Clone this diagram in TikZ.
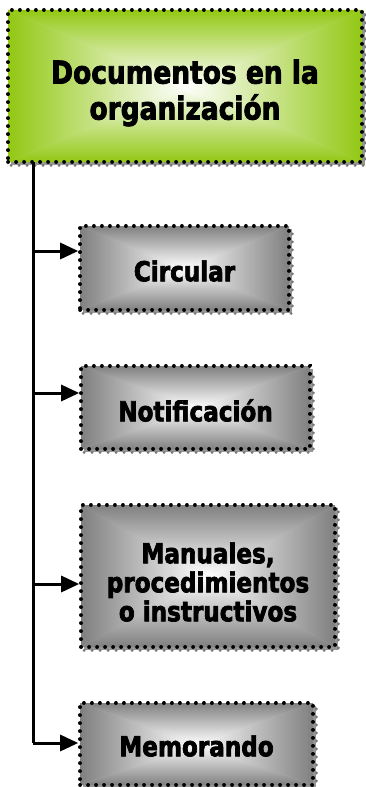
\documentclass[tikz,border=0pt]{standalone}
\usepackage{fontspec}
\setmainfont{DejaVu Sans}[FakeStretch=0.84, BoldFeatures={FakeBold=2.5}]
\usetikzlibrary{arrows.meta}
\definecolor{lime}{RGB}{146,200,20}
\definecolor{midgray}{RGB}{128,128,128}
\definecolor{shadowgray}{RGB}{150,150,150}
\newcommand\gradrect[5]{%
  \fill[#5!55!white] (#1,#2) rectangle (#3,#4);
  \shade[top color=#5, bottom color=white] (#1,#2) -- (#3,#2) -- ({(#1+#3)/2},{(#2+#4)/2}) -- cycle;
  \shade[bottom color=#5, top color=white] (#1,#4) -- (#3,#4) -- ({(#1+#3)/2},{(#2+#4)/2}) -- cycle;
  \shade[left color=#5, right color=white] (#1,#2) -- (#1,#4) -- ({(#1+#3)/2},{(#2+#4)/2}) -- cycle;
  \shade[right color=#5, left color=white] (#3,#2) -- (#3,#4) -- ({(#1+#3)/2},{(#2+#4)/2}) -- cycle;
}
\newcommand\shadowrect[4]{%
  \fill[shadowgray] ({#1+3},{#2+3}) rectangle ({#3+3},{#4+3});
  \draw[shadowgray!80!black, line width=3bp, dash pattern=on 0.2bp off 7.8bp, line cap=round] ({#1+3},{#4+3}) -- ({#3+3},{#4+3}) -- ({#3+3},{#2+3});
}
\begin{document}
\begin{tikzpicture}[x=1bp,y=-1bp,
  dotbox/.style={draw=black, line width=3.6bp, dash pattern=on 0.2bp off 7.8bp, line cap=round, inner sep=0pt},
  titlefont/.style={font=\bfseries\fontsize{31.5bp}{36bp}\selectfont, align=center, inner sep=0pt},
  childfont/.style={font=\bfseries\fontsize{27.5bp}{29bp}\selectfont, align=center, inner sep=0pt},
  conn/.style={line width=3bp},
  arr/.style={line width=3bp, -{Triangle[length=18bp,width=16bp]}}]
\useasboundingbox (0,0) rectangle (365,787);
% top box
\shadowrect{8}{10}{362}{162}
\gradrect{8}{10}{362}{162}{lime}
\node[dotbox, minimum width=354bp, minimum height=152bp] (top) at (185,86) {};
\node[titlefont] (topt) at ([yshift=-7bp]top.center) {Documentos en la\\organización};
% children
\shadowrect{80}{226}{289}{310}
\gradrect{80}{226}{289}{310}{midgray}
\node[dotbox, minimum width=209bp, minimum height=84bp] (c1) at (184.5,268) {};
\node[childfont] (c1t) at ([yshift=-3bp]c1.center) {Circular};
\shadowrect{81}{366}{310}{449}
\gradrect{81}{366}{310}{449}{midgray}
\node[dotbox, minimum width=229bp, minimum height=83bp] (c2) at (195.5,407.5) {};
\node[childfont] (c2t) at ([yshift=-3bp]c2.center) {Notificación};
\shadowrect{81}{505}{335}{647}
\gradrect{81}{505}{335}{647}{midgray}
\node[dotbox, minimum width=254bp, minimum height=142bp] (c3) at (208,576) {};
\node[childfont] (c3t) at ([yshift=-6bp]c3.center) {Manuales,\\procedimientos\\o instructivos};
\shadowrect{80}{703}{313}{785}
\gradrect{80}{703}{313}{785}{midgray}
\node[dotbox, minimum width=233bp, minimum height=82bp] (c4) at (196.5,744) {};
\node[childfont] (c4t) at ([yshift=-2bp]c4.center) {Memorando};
% connectors
\coordinate (t0) at (33,162);
\coordinate (j1) at (33,251);
\coordinate (j2) at (33,393);
\coordinate (j3) at (33,584);
\coordinate (j4) at (33,743);
\draw[conn] (t0) -- (j4);
\draw[arr] (j1) -- (j1 -| c1.west);
\draw[arr] (j2) -- (j2 -| c2.west);
\draw[arr] (j3) -- (j3 -| c3.west);
\draw[arr] (j4) -- (j4 -| c4.west);
\end{tikzpicture}
\end{document}
